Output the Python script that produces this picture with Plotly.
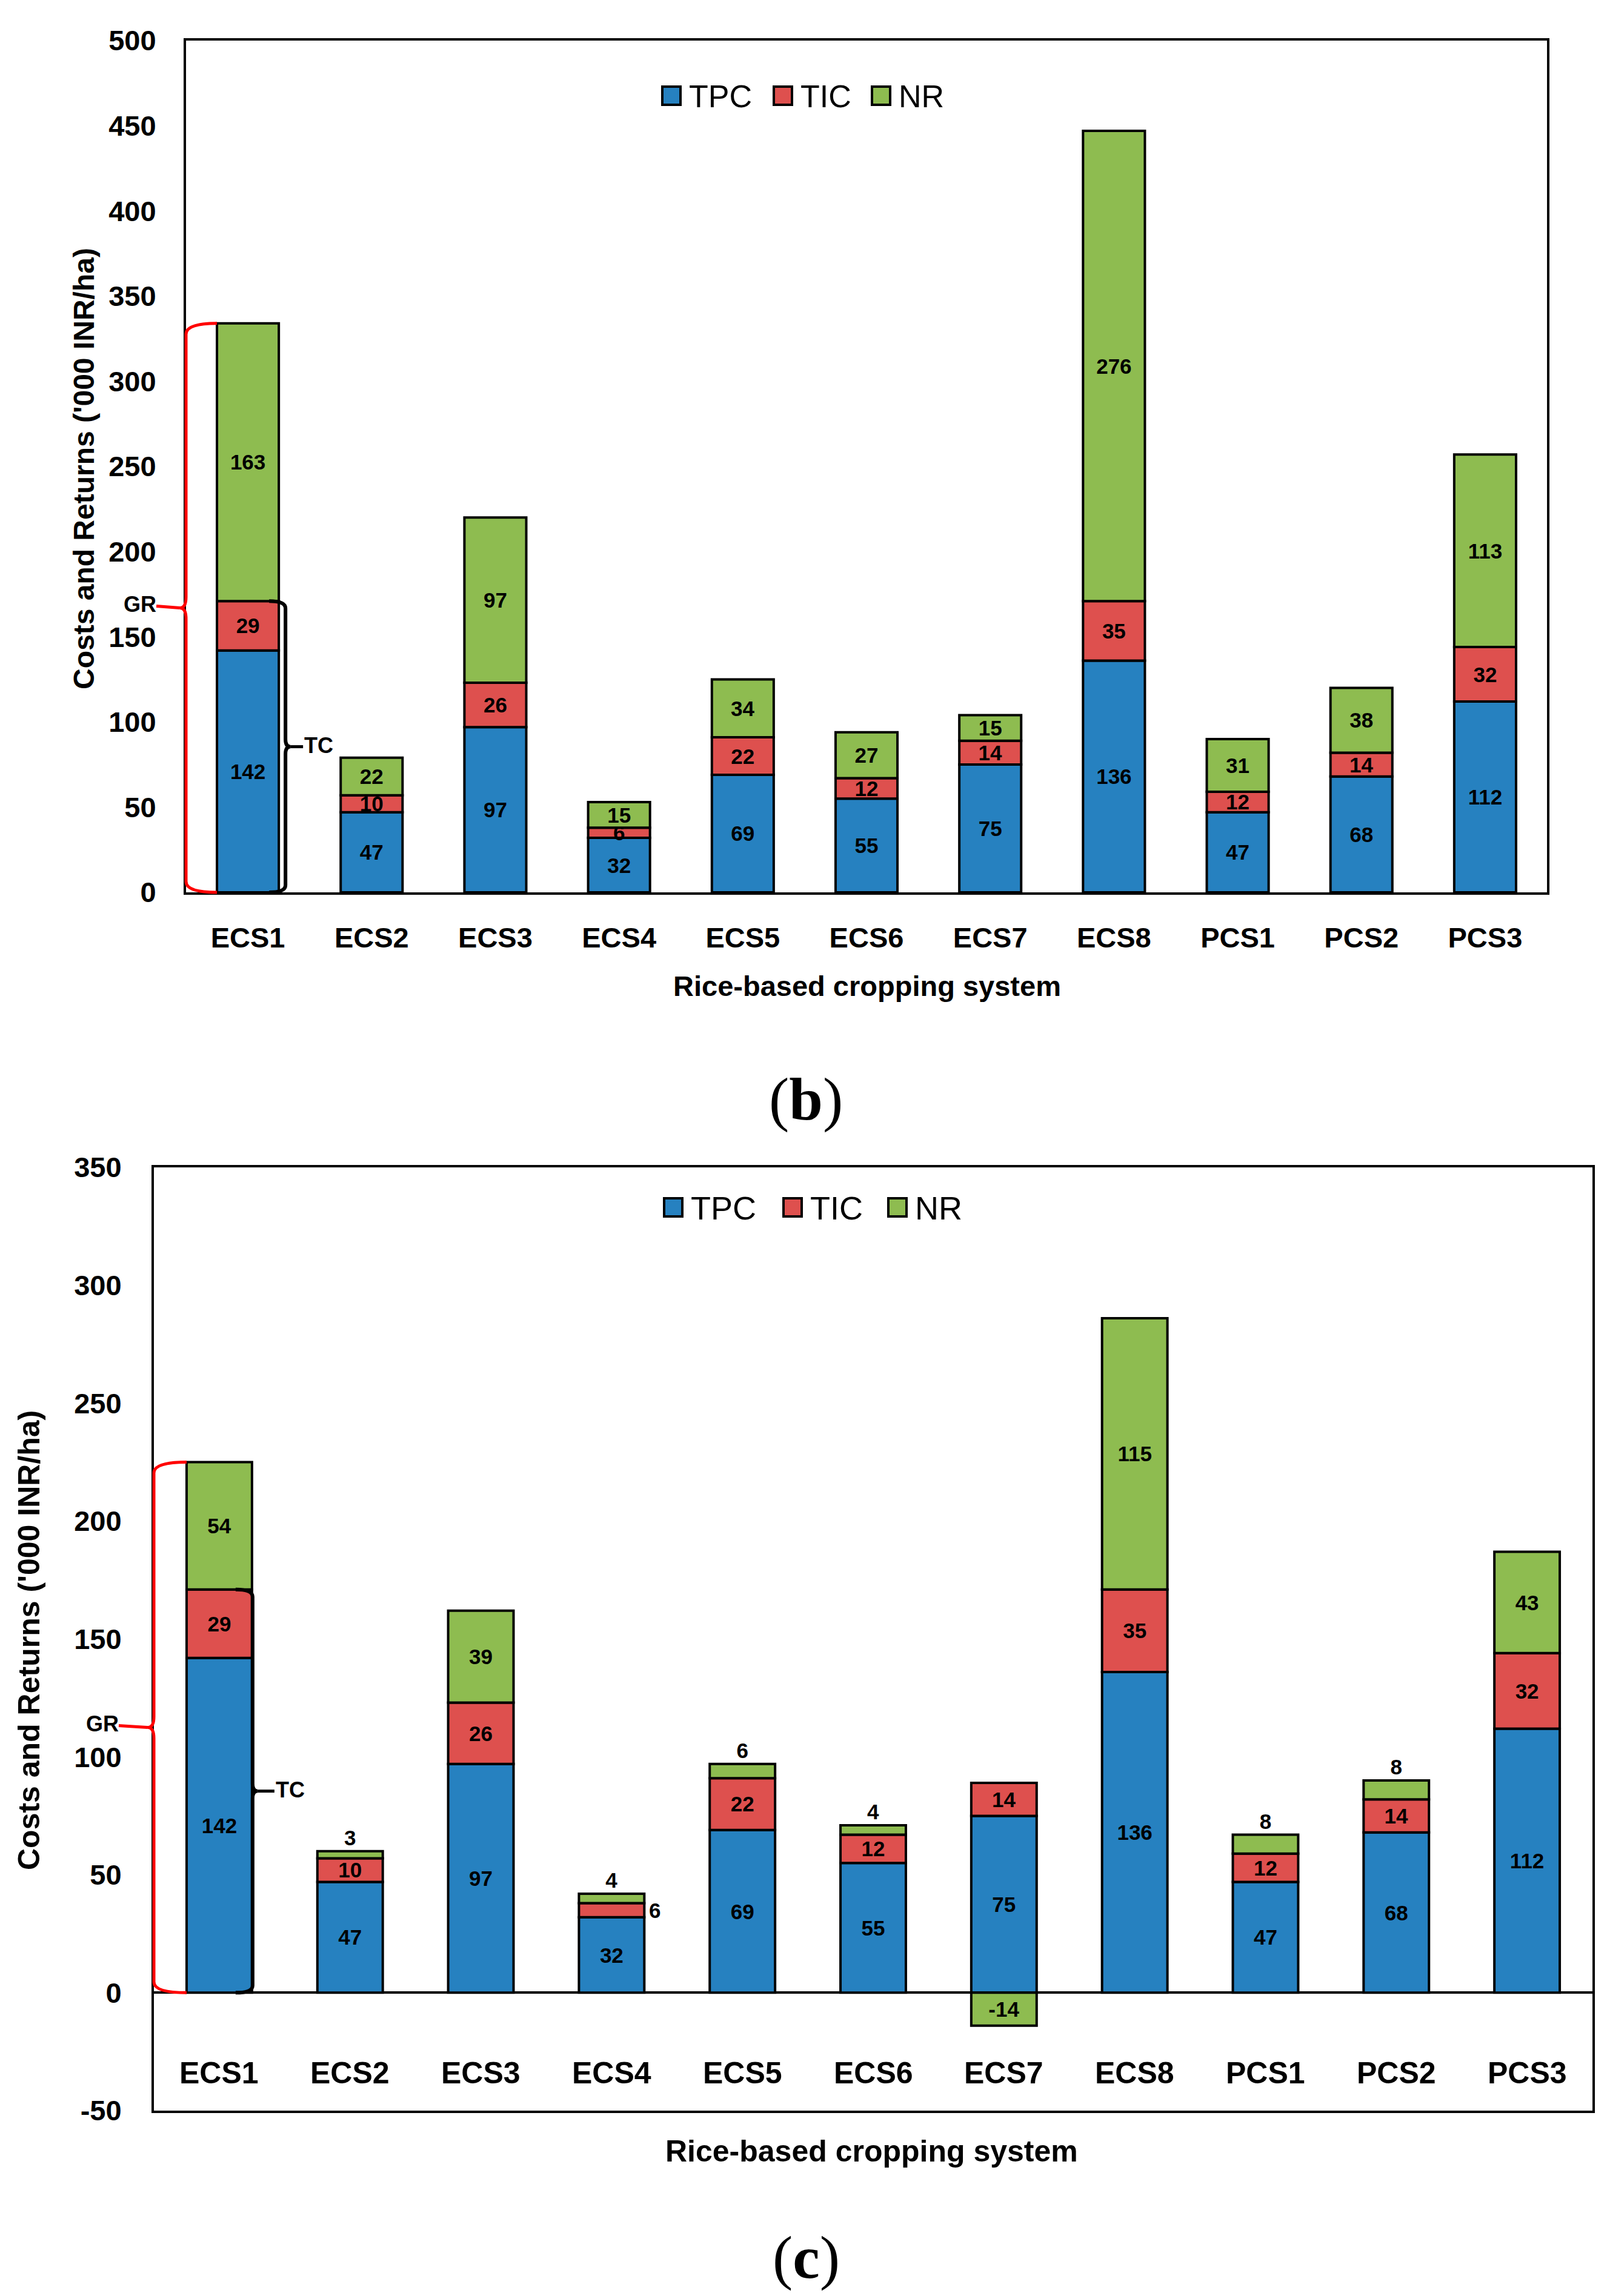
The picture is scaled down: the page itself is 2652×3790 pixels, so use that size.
import plotly.graph_objects as go

W, H = 2652, 3790
OFF = 8  # page body margin added by the browser around the figure

# ---------------- data ----------------
categories = ["ECS1", "ECS2", "ECS3", "ECS4", "ECS5", "ECS6", "ECS7", "ECS8", "PCS1", "PCS2", "PCS3"]
series_names = ["TPC", "TIC", "NR"]

tpc_b = [142, 47, 97, 32, 69, 55, 75, 136, 47, 68, 112]
tic_b = [29, 10, 26, 6, 22, 12, 14, 35, 12, 14, 32]
nr_b = [163, 22, 97, 15, 34, 27, 15, 276, 31, 38, 113]

tpc_c = [142, 47, 97, 32, 69, 55, 75, 136, 47, 68, 112]
tic_c = [29, 10, 26, 6, 22, 12, 14, 35, 12, 14, 32]
nr_c = [54, 3, 39, 4, 6, 4, -14, 115, 8, 8, 43]

yticks_b = [0, 50, 100, 150, 200, 250, 300, 350, 400, 450, 500]
yticks_c = [-50, 0, 50, 100, 150, 200, 250, 300, 350]

panel_labels = ["b", "c"]
x_title = "Rice-based cropping system"
y_title = "Costs and Returns ('000 INR/ha)"

# ---------------- style ----------------
colors = {"TPC": "#2681C0", "TIC": "#DE504E", "NR": "#8EBC50"}
SANS = "Liberation Sans, Arial, sans-serif"
SERIF = "Liberation Serif, Times New Roman, serif"
BW = 0.5  # bar width (category units)

# panel geometry in page pixels (plot-area frame)
P_b = dict(x0=307, x1=2553, y0=67, y1=1473, yr=(0, 500))
P_c = dict(x0=254, x1=2628, y0=1927, y1=3484, yr=(-50, 350))
XR = (-0.5, len(categories) - 0.5)


def fx(p):
    return (p - OFF) / W


def fy(p):
    return 1 - (p - OFF) / H


def px(P, xv):
    return P["x0"] + (xv - XR[0]) / (XR[1] - XR[0]) * (P["x1"] - P["x0"])


def py(P, yv):
    return P["y1"] - (yv - P["yr"][0]) / (P["yr"][1] - P["yr"][0]) * (P["y1"] - P["y0"])


def pth(cmds):
    out = []
    for c in cmds:
        if isinstance(c, str):
            out.append(c)
        else:
            out.append("%.6f,%.6f" % (fx(c[0]), fy(c[1])))
    return " ".join(out)


fig = go.Figure()

datasets = [
    (P_b, tpc_b, tic_b, nr_b, "x", "y"),
    (P_c, tpc_c, tic_c, nr_c, "x2", "y2"),
]

for pi, (P, tpc, tic, nr, xa, ya) in enumerate(datasets):
    vals = {"TPC": tpc, "TIC": tic, "NR": nr}
    for s in series_names:
        v = vals[s]
        texts = [str(a) for a in v]
        tpos = ["inside"] * len(v)
        if pi == 1:
            if s == "NR":
                tpos = ["outside" if (0 < a < 10) else "inside" for a in v]
            if s == "TIC":
                # ECS4 TIC label is placed beside the bar (annotation below)
                texts = ["" if (tpc[i] < 40 and a < 8) else str(a) for i, a in enumerate(v)]
        fig.add_trace(go.Bar(
            x=categories, y=v, name=s, width=BW,
            marker=dict(color=colors[s], line=dict(color="black", width=4)),
            text=texts, textposition=tpos, textangle=0,
            constraintext="none", insidetextanchor="middle",
            textfont=dict(family=SANS, size=35, color="black", weight="bold"),
            insidetextfont=dict(family=SANS, size=35, color="black", weight="bold"),
            outsidetextfont=dict(family=SANS, size=35, color="black", weight="bold"),
            cliponaxis=False, showlegend=False,
            xaxis=xa, yaxis=ya,
        ))

axis_common = dict(showline=True, mirror=True, linecolor="black", linewidth=4,
                   showgrid=False, ticks="", fixedrange=True, automargin=False)

fig.update_layout(
    width=W, height=H, autosize=False,
    margin=dict(l=0, r=0, t=0, b=0, pad=0, autoexpand=False),
    paper_bgcolor="white", plot_bgcolor="white",
    barmode="relative",
    showlegend=False,
    xaxis=dict(domain=[fx(P_b["x0"]), fx(P_b["x1"])], anchor="y", type="category",
               range=list(XR), tickfont=dict(family=SANS, size=47, color="black", weight="bold"),
               ticklabelstandoff=31, zeroline=False, **axis_common),
    yaxis=dict(domain=[fy(P_b["y1"]), fy(P_b["y0"])], anchor="x", range=list(P_b["yr"]),
               tickmode="array", tickvals=yticks_b, ticktext=[str(t) for t in yticks_b],
               tickfont=dict(family=SANS, size=47, color="black", weight="bold"),
               ticklabelstandoff=36, zeroline=False, **axis_common),
    xaxis2=dict(domain=[fx(P_c["x0"]), fx(P_c["x1"])], anchor="y2", type="category",
                range=list(XR), showticklabels=False, zeroline=False, **axis_common),
    yaxis2=dict(domain=[fy(P_c["y1"]), fy(P_c["y0"])], anchor="x2", range=list(P_c["yr"]),
                tickmode="array", tickvals=yticks_c, ticktext=[str(t) for t in yticks_c],
                tickfont=dict(family=SANS, size=47, color="black", weight="bold"),
                ticklabelstandoff=40, zeroline=True, zerolinecolor="black", zerolinewidth=4,
                **axis_common),
)

shapes = []
annotations = []

# bottom-chart category labels (inside the frame, near the bottom)
for c in categories:
    annotations.append(dict(x=c, xref="x2", y=fy(3422), yref="paper", text=c, showarrow=False,
                            xanchor="center", yanchor="middle",
                            font=dict(family=SANS, size=50, color="black", weight="bold")))

# ECS4 TIC label beside its bar in chart (c)
for i, a in enumerate(tic_c):
    if tpc_c[i] < 40 and a < 8:
        annotations.append(dict(x=fx(px(P_c, i + BW / 2) + 6), xref="paper",
                                y=fy(py(P_c, tpc_c[i] + a / 2)), yref="paper",
                                text=str(a), showarrow=False, xanchor="left", yanchor="middle",
                                font=dict(family=SANS, size=35, color="black", weight="bold")))

# axis titles and panel labels
title_specs = [
    (P_b, 1431, 1627, 138, 774, 47, 48, 1330, 1814),
    (P_c, 1438, 3551, 48, 2708, 50, 50, 1330, 3726),
]
for (P, xtx, xty, ytx, yty, xs, ys, lx, ly), lab in zip(title_specs, panel_labels):
    annotations.append(dict(x=fx(xtx), y=fy(xty), xref="paper", yref="paper", text=x_title,
                            showarrow=False, xanchor="center", yanchor="middle",
                            font=dict(family=SANS, size=xs, color="black", weight="bold")))
    annotations.append(dict(x=fx(ytx), y=fy(yty), xref="paper", yref="paper", text=y_title,
                            showarrow=False, xanchor="center", yanchor="middle", textangle=-90,
                            font=dict(family=SANS, size=ys, color="black", weight="bold")))
    annotations.append(dict(x=fx(lx), y=fy(ly), xref="paper", yref="paper",
                            text="(<b>%s</b>)" % lab, showarrow=False,
                            xanchor="center", yanchor="middle",
                            font=dict(family=SERIF, size=100, color="black")))

# custom legends (large swatches)
legend_specs = [
    ([1093, 1277, 1439], 158, 52),
    ([1096, 1293, 1466], 1993, 54),
]
for xs_list, yc, fsz in legend_specs:
    for s, x0 in zip(series_names, xs_list):
        shapes.append(dict(type="rect", xref="paper", yref="paper",
                           x0=fx(x0), x1=fx(x0 + 30), y0=fy(yc + 15), y1=fy(yc - 15),
                           fillcolor=colors[s], line=dict(color="black", width=4)))
        annotations.append(dict(x=fx(x0 + 42), y=fy(yc + 1), xref="paper", yref="paper", text=s,
                                showarrow=False, xanchor="left", yanchor="middle",
                                font=dict(family=SANS, size=fsz, color="black")))

# GR / TC braces on the first category
brace_specs = [
    # P, tpc, tic, nr, black-brace offset, black arm length, GR gap, TC gap
    (P_b, tpc_b, tic_b, nr_b, 11, 27, 49, 29),
    (P_c, tpc_c, tic_c, nr_c, 1, 28, 58, 36),
]
for P, tpc, tic, nr, boff, barm, grgap, tcgap in brace_specs:
    gr = tpc[0] + tic[0] + nr[0]
    tc = tpc[0] + tic[0]
    # red brace (gross returns) on the left of the bar
    xl = px(P, XR[0])
    xe = px(P, 0 - BW / 2)
    top, bot, mid = py(P, gr), py(P, 0), py(P, gr / 2)
    tip = xl - 10
    r = 18
    shapes.append(dict(type="path", xref="paper", yref="paper", line=dict(color="#FF0000", width=5),
                       path=pth(["M", (xe, top), "Q", (xl, top), (xl, top + r), "L", (xl, mid - r),
                                 "Q", (xl, mid), (tip, mid), "Q", (xl, mid), (xl, mid + r),
                                 "L", (xl, bot - r), "Q", (xl, bot), (xe, bot)])))
    shapes.append(dict(type="line", xref="paper", yref="paper", line=dict(color="#FF0000", width=5),
                       x0=fx(tip), x1=fx(xl - grgap), y0=fy(mid), y1=fy(mid - 3)))
    annotations.append(dict(x=fx(xl - grgap + 2), y=fy(mid - 6), xref="paper", yref="paper", text="GR",
                            showarrow=False, xanchor="right", yanchor="middle",
                            font=dict(family=SANS, size=36, color="black", weight="bold")))
    # black brace (total cost) on the right of the bar
    xr = px(P, 0 + BW / 2) + boff
    xe2 = xr - barm
    top2, mid2 = py(P, tc), py(P, tc / 2)
    tip2 = xr + 8
    r2 = 12
    shapes.append(dict(type="path", xref="paper", yref="paper", line=dict(color="black", width=6),
                       path=pth(["M", (xe2, top2), "Q", (xr, top2), (xr, top2 + r2), "L", (xr, mid2 - r2),
                                 "Q", (xr, mid2), (tip2, mid2), "Q", (xr, mid2), (xr, mid2 + r2),
                                 "L", (xr, bot - r2), "Q", (xr, bot), (xe2, bot)])))
    shapes.append(dict(type="line", xref="paper", yref="paper", line=dict(color="black", width=5),
                       x0=fx(tip2), x1=fx(xr + tcgap), y0=fy(mid2), y1=fy(mid2)))
    annotations.append(dict(x=fx(xr + tcgap), y=fy(mid2 - 2), xref="paper", yref="paper", text="TC",
                            showarrow=False, xanchor="left", yanchor="middle",
                            font=dict(family=SANS, size=36, color="black", weight="bold")))

fig.update_layout(shapes=shapes, annotations=annotations)
fig.write_html("out.html")
